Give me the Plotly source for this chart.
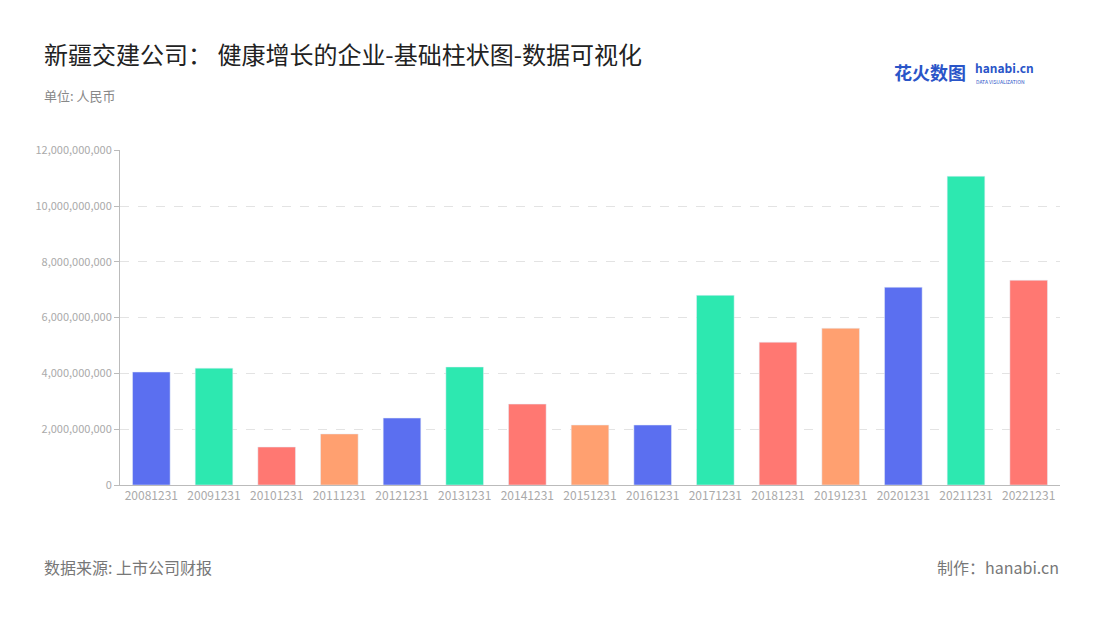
import plotly.graph_objects as go

years = ["20081231", "20091231", "20101231", "20111231", "20121231", "20131231",
         "20141231", "20151231", "20161231", "20171231", "20181231", "20191231",
         "20201231", "20211231", "20221231"]
values = [4.05e9, 4.19e9, 1.36e9, 1.83e9, 2.40e9, 4.23e9, 2.90e9, 2.15e9,
          2.15e9, 6.80e9, 5.12e9, 5.62e9, 7.09e9, 11.07e9, 7.34e9]
palette = ["#5b6ff0", "#2de8b0", "#ff7872", "#ffa070"]
colors = [palette[i % 4] for i in range(len(years))]
tick_vals = [0, 2e9, 4e9, 6e9, 8e9, 10e9, 12e9]
tick_text = ["0", "2,000,000,000", "4,000,000,000", "6,000,000,000",
             "8,000,000,000", "10,000,000,000", "12,000,000,000"]

font = "Noto Sans CJK SC"
fig = go.Figure(go.Bar(x=years, y=values, marker_color=colors, width=0.6,
                       hovertemplate="%{x}: %{y:,}<extra></extra>"))

# page is drawn 8px in from the top-left, so margins are shifted by 8
fig.update_layout(
    width=1100, height=620, margin=dict(l=112, r=48, t=142, b=143),
    plot_bgcolor="white", paper_bgcolor="white", showlegend=False,
    font=dict(family=font, color="#999"),
)
fig.update_xaxes(type="category", showline=True, linecolor="#bbb",
                 tickfont=dict(size=12, color="#aaa"), ticks="")
fig.update_yaxes(range=[0, 12.01e9], tickvals=tick_vals, ticktext=tick_text,
                 tickfont=dict(size=11, color="#aaa"), showgrid=True,
                 gridcolor="#e3e3e3", griddash="dash", zeroline=False,
                 showline=True, linecolor="#bbb", ticks="outside",
                 tickcolor="#bbb", ticklen=5)

def note(text, x, y, size, color, anchor="left"):
    fig.add_annotation(text=text, x=x, y=y, xref="paper", yref="paper",
                       xanchor=anchor, yanchor="middle", showarrow=False,
                       font=dict(family=font, size=size, color=color))

# paper coords in picture pixels: plot spans x 120..1060, y 150..485
def px(x): return (x - 120) / 940
def py(y): return (485 - y) / 335

note("新疆交建公司： 健康增长的企业-基础柱状图-数据可视化", px(42), py(54), 24, "#222")
note("单位: 人民币", px(42), py(96), 13, "#888")
note("数据来源: 上市公司财报", px(42), py(567), 16, "#777")
note("制作：hanabi.cn", px(1061), py(567), 16, "#777", anchor="right")
note("<b>花火数图</b>", px(892), py(72), 18, "#2a55c8")
note("<b>hanabi.cn</b>", px(973), py(68), 12, "#2a55c8")
note("DATA VISUALIZATION", px(974), py(81), 5, "#2a55c8")

fig.write_html("out.html")
